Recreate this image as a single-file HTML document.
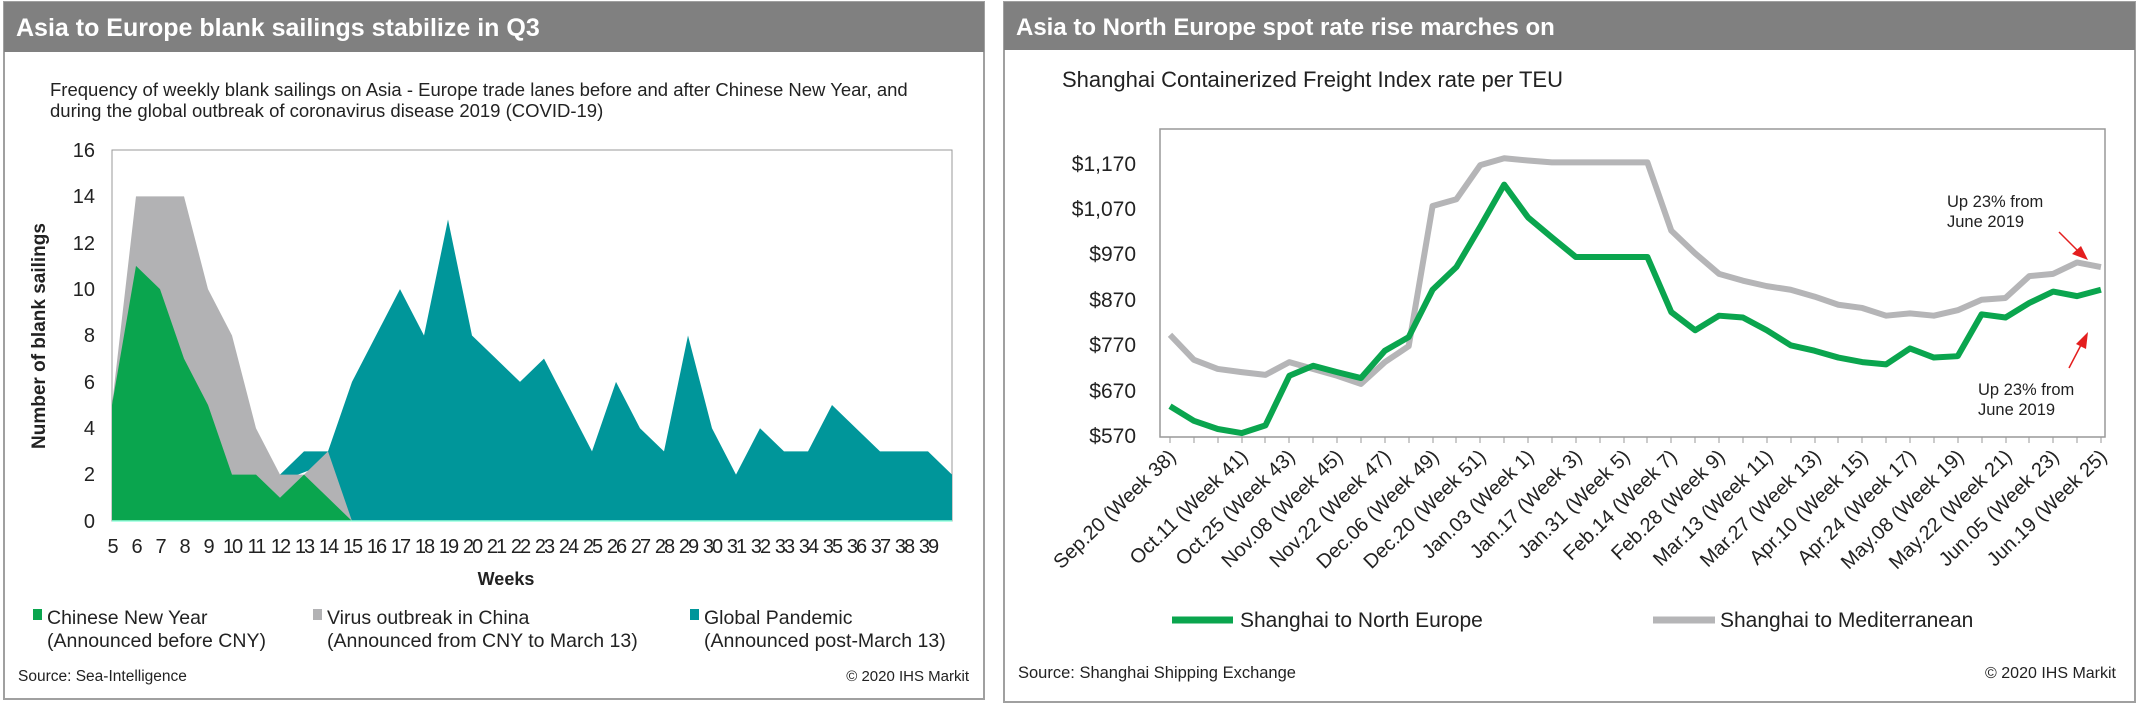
<!DOCTYPE html>
<html><head><meta charset="utf-8"><style>
html,body{margin:0;padding:0;background:#fff;}
body{width:2138px;height:705px;overflow:hidden;font-family:"Liberation Sans",sans-serif;}
</style></head><body>
<svg width="2138" height="705" viewBox="0 0 2138 705" xmlns="http://www.w3.org/2000/svg" font-family="Liberation Sans, sans-serif">
<!-- LEFT PANEL -->
<rect x="4" y="2" width="980" height="697" fill="#fff" stroke="#a0a0a0" stroke-width="2"/>
<rect x="4" y="2" width="980" height="50" fill="#808080"/>
<text x="16" y="36" font-size="25" font-weight="bold" fill="#fff">Asia to Europe blank sailings stabilize in Q3</text>
<text x="50" y="96" font-size="18.5" fill="#222">Frequency of weekly blank sailings on Asia - Europe trade lanes before and after Chinese New Year, and</text>
<text x="50" y="117" font-size="18.5" fill="#222">during the global outbreak of coronavirus disease 2019 (COVID-19)</text>
<rect x="112" y="150" width="840" height="371" fill="#fff" stroke="#999" stroke-width="1"/>
<g transform="translate(112,521) scale(24,-23.19)">
<polygon fill="#00969a" points="7,2 8,3 9,3 10,6 11,8 12,10 13,8 14,13 15,8 16,7 17,6 18,7 19,5 20,3 21,6 22,4 23,3 24,8 25,4 26,2 27,4 28,3 29,3 30,5 31,4 32,3 33,3 34,3 35,2 35,0 9,0 9,2.5 7,1.7"/>
<polygon fill="#b2b2b4" points="0,0 0,5 1,14 2,14 3,14 4,10 5,8 6,4 7,2 8,2 9,3 10,0"/>
<polygon fill="#0aa54e" points="0,0 0,5 1,11 2,10 3,7 4,5 5,2 6,2 7,1 8,2 9,1 10,0"/>
</g>
<line x1="112" y1="521" x2="952" y2="521" stroke="#9fd" stroke-width="1.5"/>
<g font-size="20" fill="#222" text-anchor="end">
<text x="95" y="528">0</text><text x="95" y="481">2</text><text x="95" y="435">4</text><text x="95" y="389">6</text><text x="95" y="342">8</text><text x="95" y="296">10</text><text x="95" y="250">12</text><text x="95" y="203">14</text><text x="95" y="157">16</text>
</g>
<text transform="translate(45,336) rotate(-90)" font-size="19" font-weight="bold" fill="#222" text-anchor="middle">Number of blank sailings</text>
<g font-size="20" fill="#222" text-anchor="middle" letter-spacing="-2">
<text x="112" y="553">5</text><text x="136" y="553">6</text><text x="160" y="553">7</text><text x="184" y="553">8</text><text x="208" y="553">9</text><text x="232" y="553">10</text><text x="256" y="553">11</text><text x="280" y="553">12</text><text x="304" y="553">13</text><text x="328" y="553">14</text><text x="352" y="553">15</text><text x="376" y="553">16</text><text x="400" y="553">17</text><text x="424" y="553">18</text><text x="448" y="553">19</text><text x="472" y="553">20</text><text x="496" y="553">21</text><text x="520" y="553">22</text><text x="544" y="553">23</text><text x="568" y="553">24</text><text x="592" y="553">25</text><text x="616" y="553">26</text><text x="640" y="553">27</text><text x="664" y="553">28</text><text x="688" y="553">29</text><text x="712" y="553">30</text><text x="736" y="553">31</text><text x="760" y="553">32</text><text x="784" y="553">33</text><text x="808" y="553">34</text><text x="832" y="553">35</text><text x="856" y="553">36</text><text x="880" y="553">37</text><text x="904" y="553">38</text><text x="928" y="553">39</text>
</g>
<text x="506" y="585" font-size="18" font-weight="bold" fill="#222" text-anchor="middle">Weeks</text>
<g font-size="19.5" fill="#222">
<rect x="33" y="609" width="9" height="11" fill="#0aa54e"/><text x="47" y="624">Chinese New Year</text><text x="47" y="647">(Announced before CNY)</text>
<rect x="313" y="609" width="9" height="11" fill="#b2b2b4"/><text x="327" y="624">Virus outbreak in China</text><text x="327" y="647">(Announced from CNY to March 13)</text>
<rect x="690" y="609" width="9" height="11" fill="#00969a"/><text x="704" y="624">Global Pandemic</text><text x="704" y="647">(Announced post-March 13)</text>
</g>
<text x="18" y="681" font-size="15.5" fill="#222">Source: Sea-Intelligence</text>
<text x="969" y="681" font-size="15" fill="#222" text-anchor="end">© 2020 IHS Markit</text>

<!-- RIGHT PANEL -->
<rect x="1004" y="2" width="1131" height="700" fill="#fff" stroke="#a0a0a0" stroke-width="2"/>
<rect x="1004" y="2" width="1131" height="48" fill="#808080"/>
<text x="1016" y="35" font-size="24" font-weight="bold" fill="#fff">Asia to North Europe spot rate rise marches on</text>
<text x="1062" y="87" font-size="22" fill="#222">Shanghai Containerized Freight Index rate per TEU</text>
<rect x="1160" y="129" width="945" height="308" fill="#fff" stroke="#999" stroke-width="1.5"/>
<g stroke="#999" stroke-width="1">
<path d="M1170,437v6M1194,437v6M1218,437v6M1242,437v6M1265,437v6M1289,437v6M1313,437v6M1337,437v6M1361,437v6M1385,437v6M1409,437v6M1433,437v6M1456,437v6M1480,437v6M1504,437v6M1528,437v6M1552,437v6M1576,437v6M1600,437v6M1624,437v6M1647,437v6M1671,437v6M1695,437v6M1719,437v6M1743,437v6M1767,437v6M1791,437v6M1815,437v6M1838,437v6M1862,437v6M1886,437v6M1910,437v6M1934,437v6M1958,437v6M1982,437v6M2006,437v6M2029,437v6M2053,437v6M2077,437v6M2101,437v6"/>
</g>
<g font-size="21" fill="#222" text-anchor="end">
<text x="1136" y="443">$570</text><text x="1136" y="398">$670</text><text x="1136" y="352">$770</text><text x="1136" y="307">$870</text><text x="1136" y="261">$970</text><text x="1136" y="216">$1,070</text><text x="1136" y="171">$1,170</text>
</g>
<g transform="translate(1170,439) scale(23.87,-0.455)" fill="none" stroke-linejoin="round">
<polyline vector-effect="non-scaling-stroke" stroke="#b5b5b7" stroke-width="6" points="0,229 1,174 2,154 3,147 4,141 5,169 6,154 7,139 8,121 9,169 10,204 11,512 12,527 13,602 14,617 15,612 16,608 17,608 18,608 19,608 20,608 21,458 22,408 23,363 24,348 25,336 26,328 27,313 28,295 29,288 30,271 31,276 32,271 33,283 34,306 35,310 36,358 37,363 38,388 39,378"/>
<polyline vector-effect="non-scaling-stroke" stroke="#0aa54e" stroke-width="6" points="0,72 1,40 2,22 3,13 4,30 5,139 6,161 7,147 8,134 9,194 10,224 11,328 12,378 13,467 14,559 15,487 16,443 17,400 18,400 19,400 20,400 21,279 22,239 23,271 24,267 25,239 26,206 27,194 28,179 29,169 30,164 31,199 32,179 33,182 34,274 35,267 36,299 37,324 38,314 39,328"/>
</g>
<g font-size="20" fill="#222" text-anchor="end">
<text transform="translate(1177,458) rotate(-44)">Sep.20 (Week 38)</text>
<text transform="translate(1249,458) rotate(-44)">Oct.11 (Week 41)</text>
<text transform="translate(1296,458) rotate(-44)">Oct.25 (Week 43)</text>
<text transform="translate(1344,458) rotate(-44)">Nov.08 (Week 45)</text>
<text transform="translate(1392,458) rotate(-44)">Nov.22 (Week 47)</text>
<text transform="translate(1440,458) rotate(-44)">Dec.06 (Week 49)</text>
<text transform="translate(1487,458) rotate(-44)">Dec.20 (Week 51)</text>
<text transform="translate(1535,458) rotate(-44)">Jan.03 (Week 1)</text>
<text transform="translate(1583,458) rotate(-44)">Jan.17 (Week 3)</text>
<text transform="translate(1631,458) rotate(-44)">Jan.31 (Week 5)</text>
<text transform="translate(1678,458) rotate(-44)">Feb.14 (Week 7)</text>
<text transform="translate(1726,458) rotate(-44)">Feb.28 (Week 9)</text>
<text transform="translate(1774,458) rotate(-44)">Mar.13 (Week 11)</text>
<text transform="translate(1822,458) rotate(-44)">Mar.27 (Week 13)</text>
<text transform="translate(1869,458) rotate(-44)">Apr.10 (Week 15)</text>
<text transform="translate(1917,458) rotate(-44)">Apr.24 (Week 17)</text>
<text transform="translate(1965,458) rotate(-44)">May.08 (Week 19)</text>
<text transform="translate(2013,458) rotate(-44)">May.22 (Week 21)</text>
<text transform="translate(2060,458) rotate(-44)">Jun.05 (Week 23)</text>
<text transform="translate(2108,458) rotate(-44)">Jun.19 (Week 25)</text>
</g>
<g font-size="16.5" fill="#222">
<text x="1947" y="207">Up 23% from</text><text x="1947" y="227">June 2019</text>
<text x="1978" y="395">Up 23% from</text><text x="1978" y="415">June 2019</text>
</g>
<g stroke="#e41e1e" stroke-width="1.5" fill="#e41e1e">
<line x1="2059" y1="232" x2="2078" y2="251"/><polygon points="2088,260 2072,254 2081,246" stroke="none"/>
<line x1="2069" y1="368" x2="2081" y2="345"/><polygon points="2088,332 2086,349 2076,344" stroke="none"/>
</g>
<line x1="1172" y1="620" x2="1233" y2="620" stroke="#0aa54e" stroke-width="7"/>
<text x="1240" y="627" font-size="21" fill="#222">Shanghai to North Europe</text>
<line x1="1653" y1="620" x2="1715" y2="620" stroke="#b5b5b7" stroke-width="7"/>
<text x="1720" y="627" font-size="21" fill="#222">Shanghai to Mediterranean</text>
<text x="1018" y="678" font-size="16.5" fill="#222">Source: Shanghai Shipping Exchange</text>
<text x="2116" y="678" font-size="16" fill="#222" text-anchor="end">© 2020 IHS Markit</text>
</svg>
</body></html>
